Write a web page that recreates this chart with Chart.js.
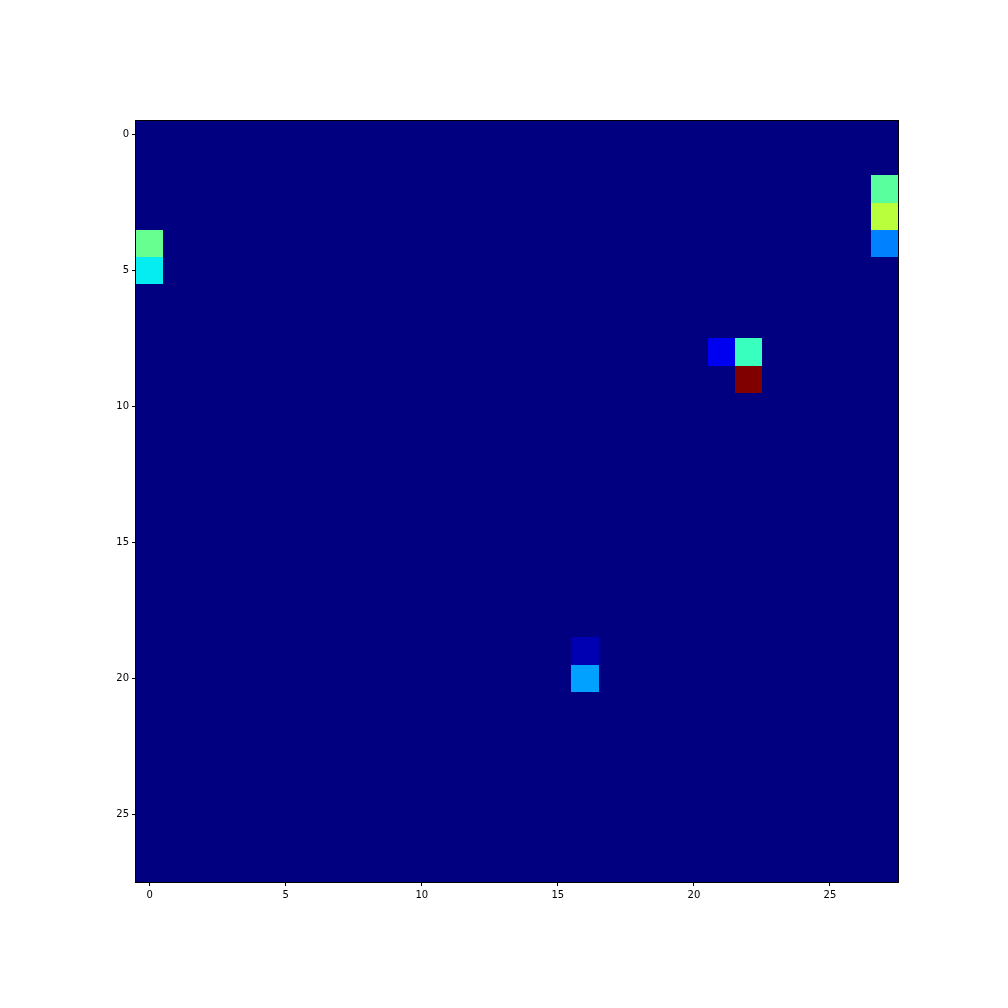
<!DOCTYPE html>
<html><head><meta charset="utf-8">
<script src="https://cdn.jsdelivr.net/npm/chart.js@4/dist/chart.umd.min.js"></script>
<style>html,body{margin:0;padding:0;background:#fff}#wrap{width:1008px;height:1008px}</style>
</head><body><div id="wrap"><canvas id="c" width="1008" height="1008"></canvas></div>
<script>
const gridSize = 28;
const xTickValues = [0, 5, 10, 15, 20, 25];
const yTickValues = [0, 5, 10, 15, 20, 25];
// nonzero cells: [row, col, value] (value 0..255), all other cells are 0
const cellRows = [4, 5, 2, 3, 4, 8, 8, 9, 19, 20];
const cellCols = [0, 0, 27, 27, 27, 21, 22, 22, 16, 16];
const cellValues = [121, 91, 117, 147, 64, 25, 107, 255, 11, 72];

const points = [];
for (let r = 0; r < gridSize; r++) for (let c = 0; c < gridSize; c++) points.push({x: c, y: r, v: 0});
for (let i = 0; i < cellRows.length; i++) points[cellRows[i] * gridSize + cellCols[i]].v = cellValues[i];
const vmax = Math.max(...points.map(p => p.v));

function interp(seg, t) {
  for (let i = 1; i < seg.length; i++) {
    if (t <= seg[i][0]) {
      const [x0, y0] = seg[i-1], [x1, y1] = seg[i];
      return y0 + (y1 - y0) * (t - x0) / (x1 - x0);
    }
  }
  return seg[seg.length-1][1];
}
const JR = [[0,0],[0.35,0],[0.66,1],[0.89,1],[1,0.5]];
const JG = [[0,0],[0.125,0],[0.375,1],[0.64,1],[0.91,0],[1,0]];
const JB = [[0,0.5],[0.11,1],[0.34,1],[0.65,0],[1,0]];
function jet(t) {
  const f = s => Math.round(255 * Math.max(0, Math.min(1, interp(s, t))));
  return `rgb(${f(JR)},${f(JG)},${f(JB)})`;
}

const heatPlugin = {
  id: 'heat',
  beforeDatasetsDraw(chart) {
    const {ctx, scales: {x, y}} = chart;
    ctx.save();
    for (const p of points) {
      const xa = Math.round(x.getPixelForValue(p.x - 0.5)), xb = Math.round(x.getPixelForValue(p.x + 0.5));
      const ya = Math.round(y.getPixelForValue(p.y - 0.5)), yb = Math.round(y.getPixelForValue(p.y + 0.5));
      ctx.fillStyle = jet(p.v / vmax);
      ctx.fillRect(Math.min(xa,xb), Math.min(ya,yb), Math.abs(xb-xa), Math.abs(yb-ya));
    }
    ctx.restore();
  },
  afterDraw(chart) {
    const {ctx, chartArea: a} = chart;
    ctx.save();
    ctx.strokeStyle = '#000';
    ctx.lineWidth = 1;
    ctx.strokeRect(Math.round(a.left) - 0.5, Math.round(a.top) - 0.5, Math.round(a.right) - Math.round(a.left) + 1, Math.round(a.bottom) - Math.round(a.top) + 1);
    ctx.restore();
  }
};

const tickFont = {family: 'DejaVu Sans', size: 10};
new Chart(document.getElementById('c'), {
  type: 'scatter',
  data: {datasets: [{data: points, pointRadius: 0, pointHoverRadius: 0}]},
  options: {
    responsive: false, animation: false,
    layout: {padding: {left: 0, top: 121, right: 110, bottom: 0}},
    plugins: {legend: {display: false}, tooltip: {enabled: false}},
    scales: {
      x: {
        type: 'linear', min: -0.5, max: gridSize - 0.5,
        afterBuildTicks: s => { s.ticks = xTickValues.map(v => ({value: v})); },
        afterFit: s => { s.height = 126; },
        ticks: {color: '#000', font: tickFont, padding: 3, maxRotation: 0, callback: v => String(v)},
        grid: {drawOnChartArea: false, drawTicks: true, tickLength: 4, color: '#000'},
        border: {display: false}
      },
      y: {
        type: 'linear', reverse: true, min: -0.5, max: gridSize - 0.5,
        afterBuildTicks: s => { s.ticks = yTickValues.map(v => ({value: v})); },
        afterFit: s => { s.width = 136; },
        ticks: {color: '#000', font: tickFont, padding: 3, callback: v => String(v)},
        grid: {drawOnChartArea: false, drawTicks: true, tickLength: 4, color: '#000'},
        border: {display: false}
      }
    }
  },
  plugins: [heatPlugin]
});
</script></body></html>
